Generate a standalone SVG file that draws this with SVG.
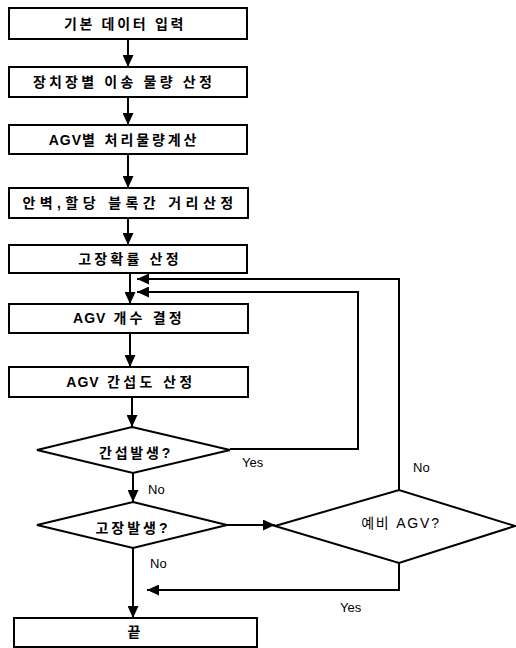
<svg xmlns="http://www.w3.org/2000/svg" width="516" height="648" viewBox="0 0 516 648">
<style>
.box{fill:#fff;stroke:#000;stroke-width:2}
.t{font-family:"Liberation Sans","Noto Sans CJK KR",sans-serif;font-size:14px;font-weight:bold;fill:#000;text-anchor:middle}
.l{font-family:"Liberation Sans","Noto Sans CJK KR",sans-serif;font-size:13px;fill:#000}
.c{fill:none;stroke:#000;stroke-width:2}
.a{letter-spacing:1px}
</style>
<defs>
<marker id="ah" markerUnits="userSpaceOnUse" markerWidth="12" markerHeight="11" refX="12" refY="5.5" orient="auto">
<path d="M0,0 L12,5.5 L0,11 z" fill="#000"/>
</marker>
</defs>
<rect width="516" height="648" fill="#fff"/>
<g id="connectors">
<path class="c" d="M128,39 V67" marker-end="url(#ah)"/>
<path class="c" d="M128,97 V125" marker-end="url(#ah)"/>
<path class="c" d="M128,154 V188" marker-end="url(#ah)"/>
<path class="c" d="M128,218 V245" marker-end="url(#ah)"/>
<path class="c" d="M130,273 V304" marker-end="url(#ah)"/>
<path class="c" d="M130,333 V367" marker-end="url(#ah)"/>
<path class="c" d="M132,397 V427" marker-end="url(#ah)"/>
<path class="c" d="M133,473 V502" marker-end="url(#ah)"/>
<path class="c" d="M230,449 H358 V292 H137" marker-end="url(#ah)"/>
<path class="c" d="M399,490 V279 H137" marker-end="url(#ah)"/>
<path class="c" d="M227,525 H275" marker-end="url(#ah)"/>
<path class="c" d="M399,563 V590 H147" marker-end="url(#ah)"/>
<path class="c" d="M133,548 V618" marker-end="url(#ah)"/>
<text class="l" x="242" y="467">Yes</text>
<text class="l" x="148" y="494">No</text>
<text class="l" x="150" y="568">No</text>
<text class="l" x="413" y="472">No</text>
<text class="l" x="340" y="612">Yes</text>
</g>
<g id="n1"><rect class="box" x="9" y="8" width="238" height="31"/><text class="t" x="125" y="29" style="letter-spacing:2.7px">기본 데이터 입력</text></g>
<g id="n2"><rect class="box" x="9" y="67" width="238" height="30"/><text class="t" x="124" y="87" style="letter-spacing:3.2px">장치장별 이송 물량 산정</text></g>
<g id="n3"><rect class="box" x="9" y="125" width="238" height="29"/><text class="t" x="124" y="145"><tspan class="a">AGV</tspan><tspan style="letter-spacing:2.9px">별 처리물량계산</tspan></text></g>
<g id="n4"><rect class="box" x="9" y="188" width="239" height="30"/><text class="t" x="130" y="208" style="letter-spacing:4.4px">안벽,할당 블록간 거리산정</text></g>
<g id="n5"><rect class="box" x="9" y="245" width="238" height="28"/><text class="t" x="130" y="264" style="letter-spacing:3.2px">고장확률 산정</text></g>
<g id="n6"><rect class="box" x="9" y="304" width="239" height="29"/><text class="t" x="129" y="323"><tspan class="a">AGV</tspan><tspan style="letter-spacing:3.2px"> 개수 결정</tspan></text></g>
<g id="n7"><rect class="box" x="9" y="367" width="239" height="30"/><text class="t" x="131" y="387"><tspan class="a">AGV</tspan><tspan style="letter-spacing:3.4px"> 간섭도 산정</tspan></text></g>
<g id="d1"><polygon class="box" points="132,427 230,450 133,473 37,450"/><text class="t" x="136" y="458" style="letter-spacing:2.8px">간섭발생?</text></g>
<g id="d2"><polygon class="box" points="133,502 227,525 133,548 37,525"/><text class="t" x="133" y="533" style="letter-spacing:3px">고장발생?</text></g>
<g id="d3"><polygon class="box" points="275,526 399,490 515,526 399,563"/><text class="t" x="401" y="528" style="font-weight:normal;letter-spacing:1.8px">예비 AGV?</text></g>
<g id="n8"><rect class="box" x="14" y="618" width="243" height="29"/><text class="t" x="134" y="637">끝</text></g>
</svg>
